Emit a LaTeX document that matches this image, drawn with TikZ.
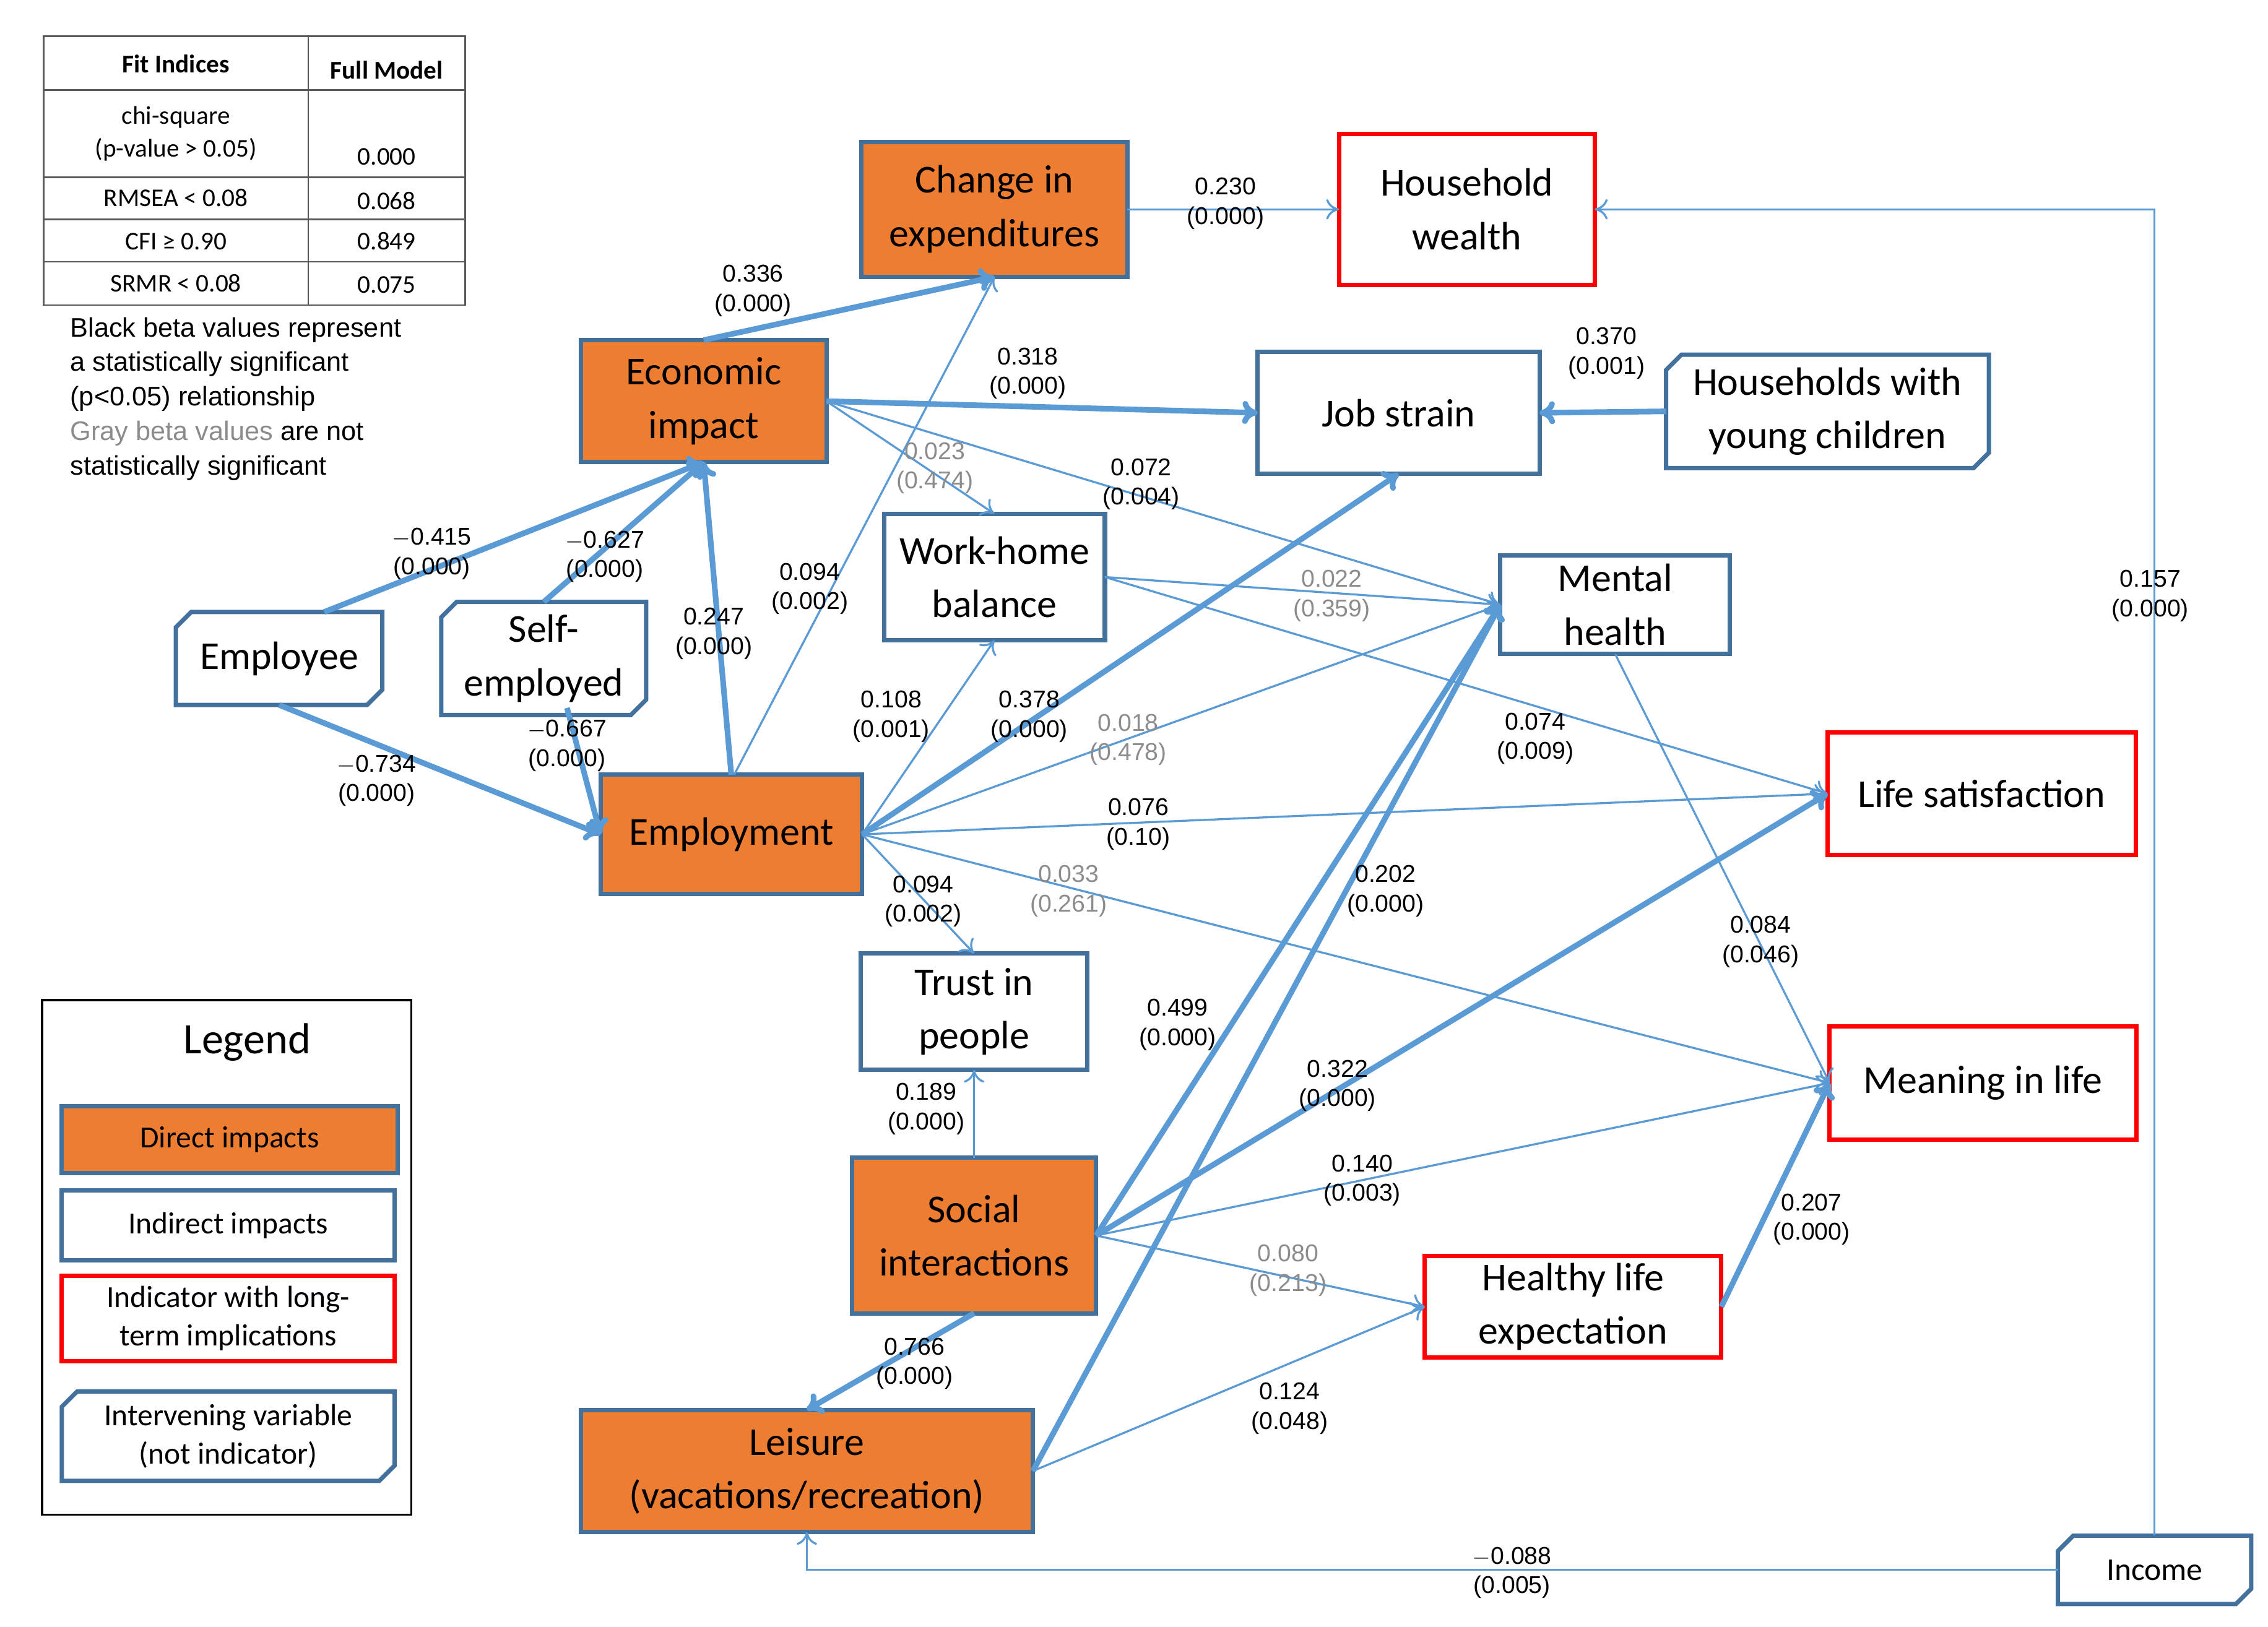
\documentclass[tikz,border=0pt]{standalone}
\usepackage{fontspec}
\setmainfont{Carlito}
\newfontfamily\arl{Liberation Sans}
\usetikzlibrary{shapes.misc,arrows.meta}
\definecolor{org}{HTML}{ED7D31}
\definecolor{bdr}{HTML}{41719C}
\definecolor{edg}{HTML}{5B9BD5}
\definecolor{gry}{HTML}{8C8C8C}
\begin{document}
\begin{tikzpicture}[x=0.02cm,y=-0.02cm,
 box/.style={draw=bdr,line width=1.7pt,align=center,inner sep=2pt,outer sep=0pt,font=\fontsize{15.5}{21}\selectfont},
 dir/.style={box,fill=org},
 ind/.style={box,fill=white},
 red/.style={box,draw=red,fill=white},
 chm/.style={box,chamfered rectangle,chamfered rectangle corners={north west,south east},chamfered rectangle xsep=3pt,chamfered rectangle ysep=3pt},
 thk/.style={draw=edg,line width=2.2pt,-{To[length=6pt,width=9pt]}},
 thn/.style={draw=edg,line width=0.8pt,-{To[length=5pt,width=8pt]}},
 lb/.style={font=\arl\fontsize{9.5}{11.5}\selectfont,align=center,inner sep=0pt},
 gl/.style={lb,text=gry}]
\useasboundingbox (0,0) rectangle (1560,1119);
% nodes
\node[dir,minimum width=3.66cm,minimum height=1.86cm] (chg) at (684,144) {Change in\\expenditures};
\node[red,minimum width=3.52cm,minimum height=2.08cm] (hw) at (1009,144) {Household\\wealth};
\node[dir,minimum width=3.38cm,minimum height=1.68cm] (eco) at (484,276) {Economic\\impact};
\node[ind,minimum width=3.88cm,minimum height=1.68cm] (job) at (962,284) {Job strain};
\node[ind,chm,minimum width=4.44cm,minimum height=1.46cm] (hyc) at (1257,283) {Households with\\young children};
\node[ind,minimum width=3.04cm,minimum height=1.74cm] (wh) at (684,397) {Work-home\\balance};
\node[ind,minimum width=3.16cm,minimum height=1.36cm] (mh) at (1111,416) {Mental\\health};
\node[ind,chm,minimum width=2.84cm,minimum height=1.28cm] (emp) at (192,453) {Employee};
\node[ind,chm,minimum width=2.82cm,minimum height=1.28cm] (se) at (374,453) {Self-\\employed};
\node[dir,minimum width=3.6cm,minimum height=1.64cm] (emt) at (503,574) {Employment};
\node[red,minimum width=4.24cm,minimum height=1.68cm] (ls) at (1363,546) {Life satisfaction};
\node[ind,minimum width=3.12cm,minimum height=1.6cm] (tr) at (670,696) {Trust in\\people};
\node[red,minimum width=4.22cm,minimum height=1.56cm] (ml) at (1364,745) {Meaning in life};
\node[dir,minimum width=3.36cm,minimum height=2.14cm] (si) at (670,850) {Social\\interactions};
\node[red,minimum width=4.08cm,minimum height=1.4cm] (hle) at (1082,899) {Healthy life\\expectation};
\node[dir,minimum width=6.22cm,minimum height=1.68cm] (lei) at (555,1012) {Leisure\\(vacations/recreation)};
\node[ind,chm,minimum width=2.66cm,minimum height=0.94cm,font=\fontsize{12.5}{16}\selectfont] (inc) at (1482,1080) {Income};
% edges thick
\draw[thk] (emp.north east) ++(-40,0) -- (eco.south);
\draw[thk] (se.north) -- (eco.south);
\draw[thk] (emp.south) -- (emt.west);
\draw[thk] (390,487) -- (emt.west);
\draw[thk] (emt.north) -- (eco.south);
\draw[thk] (eco.north) -- (chg.south);
\draw[thk] (eco.east) -- (job.west);
\draw[thk] (hyc.west) -- (job.east);
\draw[thk] (emt.east) -- (job.south);
\draw[thk] (lei.east) -- (mh.west);
\draw[thk] (si.east) -- (mh.west);
\draw[thk] (si.east) -- (ls.west);
\draw[thk] (si.south) -- (lei.north);
\draw[thk] (hle.east) -- (ml.west);
% thin
\draw[thn] (chg.east) -- (hw.west);
\draw[thn] (emt.north) ++(2,0) -- (chg.south);
\draw[thn] (eco.east) -- (wh.north);
\draw[thn] (eco.east) -- (mh.west);
\draw[thn] (wh.east) -- (mh.west);
\draw[thn] (wh.east) -- (ls.west);
\draw[thn] (emt.east) -- (wh.south);
\draw[thn] (emt.east) -- (mh.west);
\draw[thn] (emt.east) -- (ls.west);
\draw[thn] (emt.east) -- (tr.north);
\draw[thn] (emt.east) -- (ml.west);
\draw[thn] (mh.south) -- (ml.west);
\draw[thn] (si.north) -- (tr.south);
\draw[thn] (si.east) -- (ml.west);
\draw[thn] (si.east) -- (hle.west);
\draw[thn] (lei.east) -- (hle.west);
\draw[thn] (inc.north) |- (hw.east);
\draw[thn] (inc.west) -| (lei.south);
% labels
\node[lb] (l1) at (843,140) {0.230\\(0.000)};
\node[lb] (l2) at (518,200) {0.336\\(0.000)};
\node[lb] (l3) at (707,257) {0.318\\(0.000)};
\node[lb] (l4) at (1105,243) {0.370\\(0.001)};
\node[gl] (l5) at (643,322) {0.023\\(0.474)};
\node[lb] (l6) at (785,333) {0.072\\(0.004)};
\node[lb] (l7) at (297,381) {$-$0.415\\(0.000)};
\node[lb] (l8) at (416,383) {$-$0.627\\(0.000)};
\node[lb] (l9) at (557,405) {0.094\\(0.002)};
\node[lb] (l10) at (491,436) {0.247\\(0.000)};
\node[gl] (l11) at (916,410) {0.022\\(0.359)};
\node[lb] (l12) at (1479,410) {0.157\\(0.000)};
\node[lb] (l13) at (613,493) {0.108\\(0.001)};
\node[lb] (l14) at (708,493) {0.378\\(0.000)};
\node[gl] (l15) at (776,509) {0.018\\(0.478)};
\node[lb] (l16) at (1056,508) {0.074\\(0.009)};
\node[lb] (l17) at (390,513) {$-$0.667\\(0.000)};
\node[lb] (l18) at (259,537) {$-$0.734\\(0.000)};
\node[lb] (l19) at (783,567) {0.076\\(0.10)};
\node[lb] (l20) at (635,620) {0.094\\(0.002)};
\node[gl] (l21) at (735,613) {0.033\\(0.261)};
\node[lb] (l22) at (953,613) {0.202\\(0.000)};
\node[lb] (l23) at (1211,648) {0.084\\(0.046)};
\node[lb] (l24) at (810,705) {0.499\\(0.000)};
\node[lb] (l25) at (920,747) {0.322\\(0.000)};
\node[lb] (l26) at (637,763) {0.189\\(0.000)};
\node[lb] (l27) at (937,812) {0.140\\(0.003)};
\node[lb] (l28) at (1246,839) {0.207\\(0.000)};
\node[gl] (l29) at (886,874) {0.080\\(0.213)};
\node[lb] (l30) at (629,938) {0.766\\(0.000)};
\node[lb] (l31) at (887,969) {0.124\\(0.048)};
\node[lb] (l32) at (1040,1082) {$-$0.088\\(0.005)};
% fit table
\draw[gray!70!black,line width=0.6pt] (30,25) rectangle (320,210);
\foreach \y in {62,122,151,180} \draw[gray!70!black,line width=0.6pt] (30,\y) -- (320,\y);
\draw[gray!70!black,line width=0.6pt] (212,25) -- (212,210);
\begin{scope}[every node/.style={font=\fontsize{10}{13}\selectfont,inner sep=0pt,align=center}]
\node (t1) at (121,44) {\bfseries Fit Indices};
\node (t2) at (266,48) {\bfseries Full Model};
\node (t3) at (121,92) {chi-square\\(p-value > 0.05)};
\node (t4) at (266,108) {0.000};
\node (t5) at (121,136) {RMSEA < 0.08};
\node (t6) at (266,138) {0.068};
\node (t7) at (121,166) {CFI ≥ 0.90};
\node (t8) at (266,166) {0.849};
\node (t9) at (121,195) {SRMR < 0.08};
\node (t10) at (266,196) {0.075};
\end{scope}
\node[font=\arl\fontsize{10.5}{13.5}\selectfont,align=left,anchor=north west,inner sep=0pt] (note) at (48,218)
 {Black beta values represent\\a statistically significant\\(p<0.05) relationship\\\textcolor{gry}{Gray beta values} are not\\statistically significant};
% legend
\draw[line width=0.8pt] (29,688) rectangle (283,1042);
\node[font=\fontsize{17}{20}\selectfont] (lgt) at (170,717) {Legend};
\node[dir,minimum width=4.62cm,minimum height=0.92cm,font=\fontsize{12}{15}\selectfont] (lg1) at (158,784) {Direct impacts};
\node[ind,minimum width=4.58cm,minimum height=0.96cm,font=\fontsize{12}{15}\selectfont] (lg2) at (157,843) {Indirect impacts};
\node[red,minimum width=4.58cm,minimum height=1.18cm,font=\fontsize{12}{15}\selectfont] (lg3) at (157,907) {Indicator with long-\\term implications};
\node[ind,chm,minimum width=4.58cm,minimum height=1.2cm,font=\fontsize{12}{15}\selectfont] (lg4) at (157,988) {Intervening variable\\(not indicator)};
\end{tikzpicture}
\end{document}
